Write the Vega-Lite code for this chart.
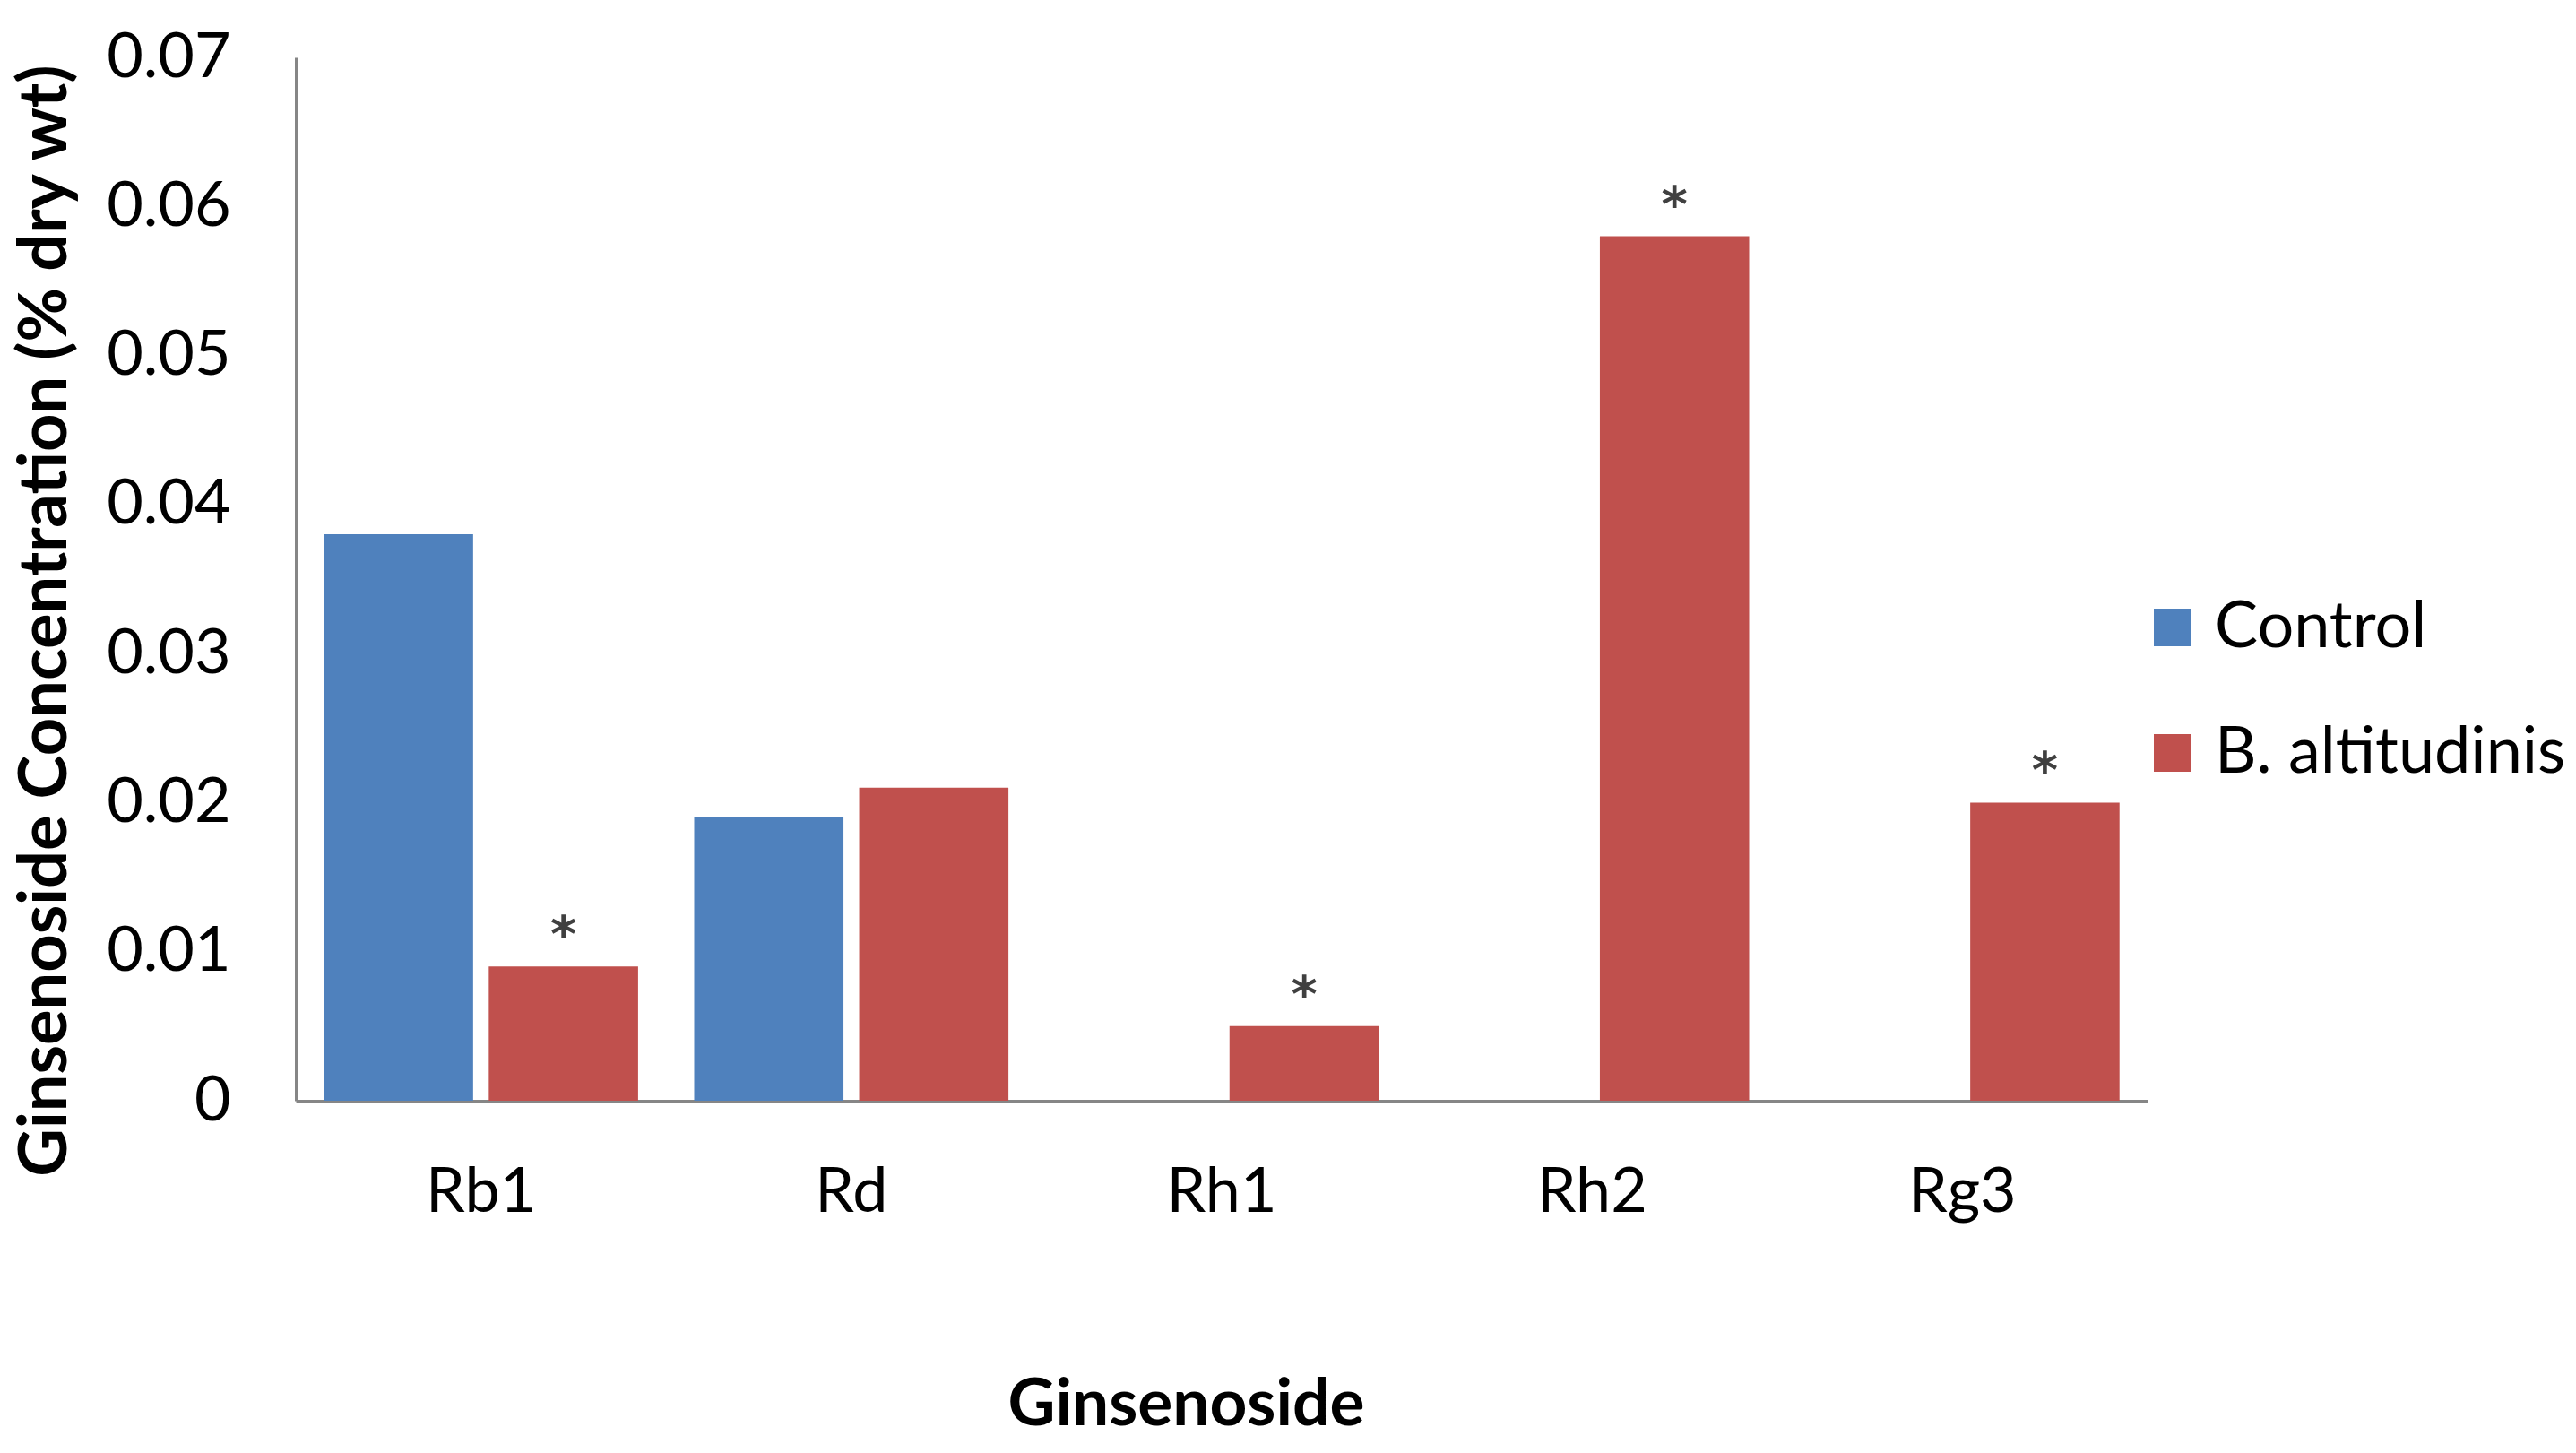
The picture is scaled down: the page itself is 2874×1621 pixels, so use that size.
{
  "$schema": "https://vega.github.io/schema/vega-lite/v6.json",
  "width": 2066,
  "height": 1164,
  "autosize": {"type": "none"},
  "padding": {"left": 330, "top": 64, "right": 478, "bottom": 393},
  "background": "white",
  "config": {"font": "Lato", "view": {"stroke": null}},
  "data": {
    "values": [
      {"ginsenoside": "Rb1", "group": "Control", "value": 0.038, "sig": ""},
      {"ginsenoside": "Rb1", "group": "B. altitudinis", "value": 0.009, "sig": "*"},
      {"ginsenoside": "Rd", "group": "Control", "value": 0.019, "sig": ""},
      {"ginsenoside": "Rd", "group": "B. altitudinis", "value": 0.021, "sig": ""},
      {"ginsenoside": "Rh1", "group": "Control", "value": 0, "sig": ""},
      {"ginsenoside": "Rh1", "group": "B. altitudinis", "value": 0.005, "sig": "*"},
      {"ginsenoside": "Rh2", "group": "Control", "value": 0, "sig": ""},
      {"ginsenoside": "Rh2", "group": "B. altitudinis", "value": 0.058, "sig": "*"},
      {"ginsenoside": "Rg3", "group": "Control", "value": 0, "sig": ""},
      {"ginsenoside": "Rg3", "group": "B. altitudinis", "value": 0.020, "sig": "*"}
    ]
  },
  "encoding": {
    "x": {
      "field": "ginsenoside",
      "type": "nominal",
      "sort": ["Rb1", "Rd", "Rh1", "Rh2", "Rg3"],
      "scale": {"paddingInner": 0, "paddingOuter": 0},
      "title": "Ginsenoside",
      "axis": {
        "domainColor": "#868686",
        "domainWidth": 3,
        "ticks": false,
        "labelAngle": 0,
        "labelFontSize": 70,
        "labelColor": "#000000",
        "labelPadding": 68,
        "titleFontSize": 73,
        "titleFontWeight": "bold",
        "titleColor": "#000000",
        "titleX": 993,
        "titleY": 339,
        "titleBaseline": "middle",
        "titleAlign": "center"
      }
    },
    "xOffset": {
      "field": "group",
      "type": "nominal",
      "sort": ["Control", "B. altitudinis"],
      "scale": {"paddingInner": 0.095, "paddingOuter": 0.17}
    },
    "y": {
      "field": "value",
      "type": "quantitative",
      "scale": {"domain": [0, 0.07], "nice": false},
      "title": "Ginsenoside Concentration (% dry wt)",
      "axis": {
        "values": [0, 0.01, 0.02, 0.03, 0.04, 0.05, 0.06, 0.07],
        "format": "~g",
        "grid": false,
        "ticks": false,
        "domainColor": "#868686",
        "domainWidth": 3,
        "labelFontSize": 70,
        "labelColor": "#000000",
        "labelPadding": 73,
        "titleFontSize": 74,
        "titleFontWeight": "bold",
        "titleColor": "#000000",
        "titleAngle": 270,
        "titleX": -279,
        "titleY": 628,
        "titleBaseline": "middle",
        "titleAlign": "center"
      }
    }
  },
  "layer": [
    {
      "mark": {"type": "bar"},
      "encoding": {
        "color": {
          "field": "group",
          "type": "nominal",
          "scale": {"domain": ["Control", "B. altitudinis"], "range": ["#4F81BD", "#C0504D"]},
          "legend": {
            "orient": "none",
            "legendX": 2058,
            "legendY": 600,
            "title": null,
            "symbolType": "square",
            "symbolSize": 1764,
            "symbolStrokeWidth": 0,
            "labelFontSize": 72,
            "labelColor": "#000000",
            "labelOffset": 11,
            "rowPadding": 68,
            "labelLimit": 800
          }
        }
      }
    },
    {
      "transform": [{"filter": "datum.sig == '*'"}],
      "mark": {"type": "text", "font": "DejaVu Sans", "fontSize": 56, "fontWeight": "bold", "color": "#404040", "baseline": "alphabetic", "dy": -17},
      "encoding": {"text": {"field": "sig"}}
    }
  ]
}
